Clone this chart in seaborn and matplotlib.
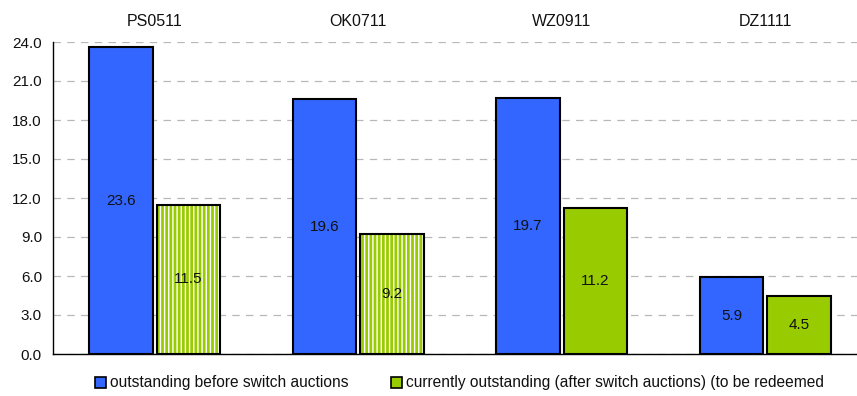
import matplotlib
matplotlib.use("Agg")
import matplotlib.pyplot as plt
from matplotlib.patches import Rectangle, Patch
import pandas as pd
import seaborn as sns

bonds = ["PS0511", "OK0711", "WZ0911", "DZ1111"]
before_switch = [23.6, 19.6, 19.7, 5.9]
after_switch = [11.5, 9.2, 11.2, 4.5]
series_names = ["outstanding before switch auctions",
                "currently outstanding (after switch auctions) (to be redeemed"]
hatched_bonds = ["PS0511", "OK0711"]
y_ticks = [0, 3, 6, 9, 12, 15, 18, 21, 24]

blue = "#3366FF"
green = "#99CC00"

df = pd.DataFrame({
    "bond": bonds * 2,
    "amount": before_switch + after_switch,
    "series": [series_names[0]] * len(bonds) + [series_names[1]] * len(bonds),
})

sns.set_theme(style="white")
plt.rcParams["font.family"] = ["Liberation Sans", "DejaVu Sans"]

fig = plt.figure(figsize=(8.57, 3.96), dpi=100)
ax = fig.add_axes([53 / 857, 42 / 396, (857 - 53) / 857, 312 / 396])

sns.barplot(data=df, x="bond", y="amount", hue="series", order=bonds,
            hue_order=series_names, palette=[blue, green], width=0.663,
            gap=0.06, edgecolor="black", linewidth=1.5, saturation=1,
            legend=False, ax=ax, zorder=3)

# Vertical white stripes on the first two "after" bars, with a black outline on top
green_bars = ax.containers[1]
for bond, patch in zip(bonds, green_bars.patches):
    if bond in hatched_bonds:
        patch.set_edgecolor("white")
        patch.set_hatch("||||")
        patch.set_linewidth(0)
        ax.add_patch(Rectangle(patch.get_xy(), patch.get_width(), patch.get_height(),
                               fill=False, edgecolor="black", linewidth=1.5, zorder=4))

for cont in ax.containers:
    ax.bar_label(cont, fmt="%.1f", label_type="center", fontsize=11, color="#111111", zorder=5)

ax.set_ylim(0, 24)
ax.set_xlim(-0.5, 3.45)
ax.set_yticks(y_ticks)
ax.set_yticklabels([f"{v:.1f}" for v in y_ticks], fontsize=11)
ax.set_xlabel("")
ax.set_ylabel("")

ax.xaxis.tick_top()
ax.tick_params(axis="x", length=0, pad=9, labelsize=11.5, colors="#111111")
ax.tick_params(axis="y", length=0, pad=8, colors="#111111")

ax.yaxis.grid(True, linestyle=(0, (6, 5)), color="#b8b8b8", linewidth=0.9, zorder=0)
ax.set_axisbelow(True)

for side in ["top", "right"]:
    ax.spines[side].set_visible(False)
for side in ["left", "bottom"]:
    ax.spines[side].set_color("black")
    ax.spines[side].set_linewidth(1.0)

handles = [Patch(facecolor=blue, edgecolor="black", linewidth=1.2),
           Patch(facecolor=green, edgecolor="black", linewidth=1.2)]
fig.legend(handles, series_names, loc="center left", bbox_to_anchor=(95 / 857, 1 - 383 / 396),
           ncol=2, frameon=False, fontsize=11.2, handlelength=0.7, handleheight=0.7,
           handletextpad=0.25, columnspacing=2.75, borderpad=0, borderaxespad=0,
           labelcolor="#111111")

fig.savefig("out.png", dpi=100)
